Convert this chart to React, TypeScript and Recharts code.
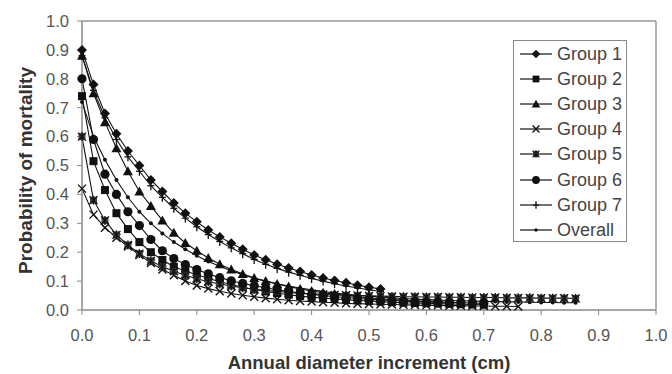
import React from "react";
import { LineChart, Line, XAxis, YAxis, ReferenceLine, Legend, Label } from "recharts";

// x positions of the markers (cm)
const X_VALUES = [
  0, 0.02, 0.04, 0.06, 0.08, 0.1, 0.12, 0.14, 0.16, 0.18, 0.2, 0.22, 0.24, 0.26, 0.28,
  0.3, 0.32, 0.34, 0.36, 0.38, 0.4, 0.42, 0.44, 0.46, 0.48, 0.5, 0.52, 0.54, 0.56, 0.58,
  0.6, 0.62, 0.64, 0.66, 0.68, 0.7, 0.72, 0.74, 0.76, 0.78, 0.8, 0.82, 0.84, 0.86,
];

const GROUP_1 = [
  0.9, 0.78, 0.68, 0.61, 0.55, 0.5, 0.45, 0.41, 0.37, 0.335, 0.305, 0.277, 0.253, 0.231,
  0.21, 0.19, 0.174, 0.158, 0.145, 0.133, 0.121, 0.111, 0.102, 0.094, 0.086, 0.079, 0.073,
];
const GROUP_2 = [
  0.74, 0.515, 0.415, 0.335, 0.28, 0.235, 0.2, 0.173, 0.15, 0.135, 0.122, 0.11, 0.098,
  0.088, 0.079, 0.071, 0.064, 0.058, 0.053, 0.048, 0.044, 0.041, 0.038, 0.035, 0.033,
  0.031, 0.029, 0.027, 0.025, 0.024, 0.023, 0.022, 0.021, 0.02, 0.019, 0.018,
];
const GROUP_3 = [
  0.88, 0.75, 0.65, 0.56, 0.48, 0.41, 0.36, 0.31, 0.267, 0.232, 0.205, 0.18, 0.158, 0.14,
  0.125, 0.111, 0.1, 0.09, 0.081, 0.073, 0.066, 0.06, 0.055, 0.05, 0.046, 0.042, 0.039,
  0.036, 0.034, 0.032, 0.03, 0.028, 0.026, 0.025,
];
const GROUP_4 = [
  0.42, 0.33, 0.285, 0.25, 0.22, 0.19, 0.163, 0.14, 0.12, 0.1, 0.085, 0.074, 0.065, 0.057,
  0.051, 0.046, 0.041, 0.037, 0.034, 0.031, 0.029, 0.027, 0.025, 0.023, 0.022, 0.021,
  0.02, 0.019, 0.018, 0.017, 0.016, 0.016, 0.015, 0.015, 0.014, 0.014, 0.013, 0.013, 0.012,
];
const GROUP_5 = [
  0.6, 0.38, 0.31, 0.26, 0.225, 0.195, 0.17, 0.15, 0.134, 0.12, 0.108, 0.098, 0.09, 0.083,
  0.077, 0.072, 0.068, 0.064, 0.061, 0.058, 0.056, 0.054, 0.052, 0.051, 0.05, 0.049,
  0.048, 0.047, 0.046, 0.046, 0.045, 0.045, 0.044, 0.044, 0.043, 0.043, 0.043, 0.042,
  0.042, 0.042, 0.041, 0.041, 0.041, 0.04,
];
const GROUP_6 = [
  0.8, 0.59, 0.47, 0.4, 0.34, 0.292, 0.244, 0.205, 0.178, 0.157, 0.14, 0.125, 0.112,
  0.101, 0.092, 0.084, 0.077, 0.07, 0.064, 0.059, 0.054, 0.05, 0.046, 0.043, 0.04, 0.037,
  0.035, 0.033, 0.031, 0.029, 0.028, 0.027, 0.026, 0.025, 0.024, 0.023,
];
const GROUP_7 = [
  0.88, 0.76, 0.665, 0.59, 0.53, 0.48, 0.43, 0.39, 0.352, 0.318, 0.288, 0.261, 0.237,
  0.215, 0.195, 0.175, 0.158, 0.144, 0.131, 0.12, 0.109, 0.1, 0.091, 0.083, 0.076, 0.07,
  0.064,
];
const OVERALL = [
  0.72, 0.6, 0.52, 0.45, 0.39, 0.34, 0.3, 0.265, 0.235, 0.21, 0.188, 0.168, 0.151, 0.136,
  0.122, 0.11, 0.1, 0.091, 0.083, 0.076, 0.07, 0.064, 0.059, 0.055, 0.051, 0.048, 0.045,
  0.042, 0.04, 0.038, 0.036, 0.034, 0.033, 0.032, 0.031, 0.03, 0.029, 0.028, 0.028,
  0.027, 0.026, 0.026, 0.025, 0.025,
];

const X_TICKS = [0, 0.1, 0.2, 0.3, 0.4, 0.5, 0.6, 0.7, 0.8, 0.9, 1];
const Y_TICKS = [0, 0.1, 0.2, 0.3, 0.4, 0.5, 0.6, 0.7, 0.8, 0.9, 1];

type Kind = "diamond" | "square" | "triangle" | "x" | "star" | "circle" | "plus" | "dot";

const SERIES: { key: string; name: string; kind: Kind; values: number[] }[] = [
  { key: "g1", name: "Group 1", kind: "diamond", values: GROUP_1 },
  { key: "g2", name: "Group 2", kind: "square", values: GROUP_2 },
  { key: "g3", name: "Group 3", kind: "triangle", values: GROUP_3 },
  { key: "g4", name: "Group 4", kind: "x", values: GROUP_4 },
  { key: "g5", name: "Group 5", kind: "star", values: GROUP_5 },
  { key: "g6", name: "Group 6", kind: "circle", values: GROUP_6 },
  { key: "g7", name: "Group 7", kind: "plus", values: GROUP_7 },
  { key: "all", name: "Overall", kind: "dot", values: OVERALL },
];

const data = X_VALUES.map((x, i) => {
  const row: Record<string, number | undefined> = { x };
  SERIES.forEach((s) => {
    row[s.key] = s.values[i];
  });
  return row;
});

const INK = "#111";
const FONT = '"Liberation Sans", Arial, sans-serif';

function Marker({ kind, cx, cy, s = 1 }: { kind: Kind; cx: number; cy: number; s?: number }) {
  switch (kind) {
    case "diamond":
      return (
        <polygon
          points={`${cx},${cy - 5 * s} ${cx + 5 * s},${cy} ${cx},${cy + 5 * s} ${cx - 5 * s},${cy}`}
          fill={INK}
        />
      );
    case "square":
      return <rect x={cx - 4 * s} y={cy - 4 * s} width={8 * s} height={8 * s} fill={INK} />;
    case "triangle":
      return (
        <polygon
          points={`${cx},${cy - 5 * s} ${cx + 5 * s},${cy + 4 * s} ${cx - 5 * s},${cy + 4 * s}`}
          fill={INK}
        />
      );
    case "x":
      return (
        <g stroke={INK} strokeWidth={1.4}>
          <line x1={cx - 4 * s} y1={cy - 4 * s} x2={cx + 4 * s} y2={cy + 4 * s} />
          <line x1={cx - 4 * s} y1={cy + 4 * s} x2={cx + 4 * s} y2={cy - 4 * s} />
        </g>
      );
    case "star":
      return (
        <g>
          <rect x={cx - 3.5 * s} y={cy - 3.5 * s} width={7 * s} height={7 * s} fill="#444" />
          <g stroke={INK} strokeWidth={1.3}>
            <line x1={cx - 4 * s} y1={cy - 4 * s} x2={cx + 4 * s} y2={cy + 4 * s} />
            <line x1={cx - 4 * s} y1={cy + 4 * s} x2={cx + 4 * s} y2={cy - 4 * s} />
            <line x1={cx} y1={cy - 4.5 * s} x2={cx} y2={cy + 4.5 * s} />
          </g>
        </g>
      );
    case "circle":
      return <circle cx={cx} cy={cy} r={4.6 * s} fill={INK} />;
    case "plus":
      return (
        <g stroke={INK} strokeWidth={1.3}>
          <line x1={cx - 3.5 * s} y1={cy} x2={cx + 3.5 * s} y2={cy} />
          <line x1={cx} y1={cy - 4.5 * s} x2={cx} y2={cy + 4.5 * s} />
        </g>
      );
    default:
      return <circle cx={cx} cy={cy} r={2 * s} fill={INK} />;
  }
}

function makeDot(kind: Kind) {
  return (props: any) => {
    const { cx, cy, key } = props;
    if (cx == null || cy == null || props.value == null) return <g key={key} />;
    return (
      <g key={key}>
        <Marker kind={kind} cx={cx} cy={cy} />
      </g>
    );
  };
}

function LegendBox() {
  return (
    <div style={{ fontFamily: FONT }}>
      {SERIES.map((s) => (
        <div
          key={s.key}
          style={{ display: "flex", alignItems: "center", height: 25.2, paddingLeft: 6 }}
        >
          <svg width={32} height={12} style={{ display: "block" }}>
            <line x1={0} y1={6} x2={32} y2={6} stroke={INK} strokeWidth={1.2} />
            <Marker kind={s.kind} cx={16} cy={6} s={0.85} />
          </svg>
          <span style={{ marginLeft: 5, fontSize: 18, color: "#444", lineHeight: "18px" }}>
            {s.name}
          </span>
        </div>
      ))}
    </div>
  );
}

function YTitle(props: any) {
  const vb = props.viewBox;
  const cx = vb.x + 25;
  const cy = vb.y + vb.height / 2 + 5;
  return (
    <text
      x={cx}
      y={cy}
      transform={`rotate(-90, ${cx}, ${cy})`}
      textAnchor="middle"
      dominantBaseline="central"
      style={{ fontSize: 19, fontWeight: "bold", fill: "#333", fontFamily: FONT }}
    >
      Probability of mortality
    </text>
  );
}

export default function App() {
  return (
    <div
      style={{
        position: "fixed",
        left: 0,
        top: 0,
        width: 672,
        height: 374,
        background: "#fff",
        fontFamily: FONT,
      }}
    >
      <LineChart
        width={672}
        height={374}
        data={data}
        margin={{ top: 21, right: 16, bottom: 0, left: 0 }}
      >
        <XAxis
          type="number"
          dataKey="x"
          domain={[0, 1]}
          ticks={X_TICKS}
          interval={0}
          tickFormatter={(v: number) => v.toFixed(1)}
          tick={{ fontSize: 16.5, fill: "#555", fontFamily: FONT }}
          tickSize={5}
          tickMargin={14}
          axisLine={{ stroke: "#888", strokeWidth: 1.5 }}
          tickLine={{ stroke: "#888" }}
          height={64}
        >
          <Label
            value="Annual diameter increment (cm)"
            position="insideBottom"
            offset={5}
            style={{ fontSize: 18.5, fontWeight: "bold", fill: "#333", fontFamily: FONT }}
          />
        </XAxis>
        <YAxis
          type="number"
          domain={[0, 1]}
          ticks={Y_TICKS}
          interval={0}
          tickFormatter={(v: number) => v.toFixed(1)}
          tick={{ fontSize: 16.5, fill: "#555", fontFamily: FONT }}
          tickSize={5}
          tickMargin={8}
          axisLine={{ stroke: "#888", strokeWidth: 1.5 }}
          tickLine={{ stroke: "#888" }}
          width={82}
        >
          <Label content={YTitle} />
        </YAxis>
        <ReferenceLine y={1} stroke="#999" strokeWidth={1.5} />
        <ReferenceLine x={1} stroke="#999" strokeWidth={1.5} />
        {SERIES.map((s) => (
          <Line
            key={s.key}
            dataKey={s.key}
            name={s.name}
            type="linear"
            stroke={INK}
            strokeWidth={1.1}
            dot={makeDot(s.kind)}
            activeDot={false}
            isAnimationActive={false}
            connectNulls={false}
          />
        ))}
        <Legend
          layout="vertical"
          align="center"
          verticalAlign="middle"
          wrapperStyle={{
            left: 513,
            top: 40,
            width: 114,
            height: 202,
            border: "1.5px solid #888",
            background: "#fff",
            boxSizing: "border-box",
          }}
          content={() => <LegendBox />}
        />
      </LineChart>
    </div>
  );
}
